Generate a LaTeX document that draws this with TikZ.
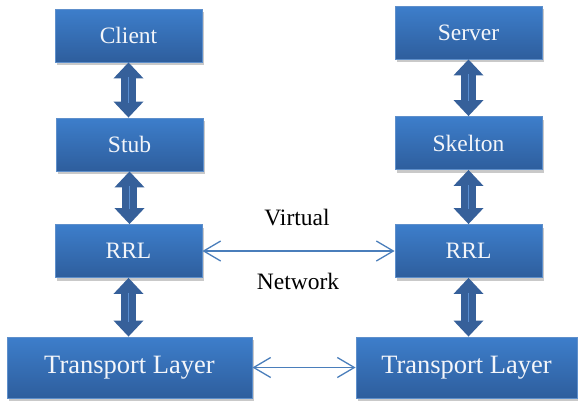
\documentclass[tikz,border=0pt]{standalone}
\usepackage{fontspec}
\setmainfont{Liberation Serif}
\newfontfamily\tnrfont{Liberation Serif}
\usetikzlibrary{arrows.meta,shadows}
\definecolor{boxtop}{HTML}{3D7ECB}
\definecolor{boxbot}{HTML}{2E5E9D}
\definecolor{boxline}{HTML}{5E8FCB}
\definecolor{fatblue}{HTML}{36609A}
\definecolor{fatmid}{HTML}{5A8ED0}
\definecolor{netblue}{HTML}{4A7EBB}
\definecolor{labelwhite}{HTML}{F4F6FA}
\tikzset{
  box/.style={draw=boxline, line width=0.8pt, top color=boxtop, bottom color=boxbot,
    minimum width=147pt, minimum height=53pt, inner sep=0pt,
    text=labelwhite, font=\tnrfont\fontsize{23.5}{26}\selectfont,
    drop shadow={shadow xshift=1.5pt, shadow yshift=-3pt, opacity=0.3, fill=black!70}},
  bigbox/.style={box, minimum width=245pt, minimum height=61pt, font=\tnrfont\fontsize{26.5}{29}\selectfont},
  fatarrow/.style={draw=fatblue, line width=15pt,
    {Triangle[width=29pt,length=16pt]}-{Triangle[width=29pt,length=16pt]}},
  fatline/.style={draw=fatmid, line width=1.6pt, shorten <=15pt, shorten >=15pt},
  netarrow/.style={draw=netblue, line width=1.3pt,
    {Straight Barb[length=17pt,width=20pt]}-{Straight Barb[length=17pt,width=20pt]}},
  plainlabel/.style={font=\tnrfont\fontsize{23.5}{26}\selectfont, text=black}
}
\begin{document}
\begin{tikzpicture}[x=1pt,y=-1pt]
\useasboundingbox (0,0) rectangle (578,402);
% left column
\node[box] (client) at (128.5,35.5) {Client};
\node[box] (stub) at (129.5,144.5) {Stub};
\node[box] (rrlL) at (128.5,251) {RRL};
\node[bigbox] (tlL) at (129.5,367.5) {Transport Layer};
% right column
\node[box] (server) at (468.5,32.5) {Server};
\node[box] (skel) at (468.5,143) {Skelton};
\node[box] (rrlR) at (468.5,251) {RRL};
\node[bigbox, minimum width=221pt] (tlR) at (466.5,367.5) {Transport Layer};
% fat double arrows
\foreach \a/\b in {client/stub, stub/rrlL, rrlL/tlL, server/skel, skel/rrlR, rrlR/tlR}{
  \draw[fatarrow] (\a.south) -- (\a.south |- \b.north);
  \draw[fatline] (\a.south) -- (\a.south |- \b.north);
}
% network arrows
\draw[netarrow] (rrlL.east) -- (rrlR.west);
\draw[netarrow] (tlL.east) -- (tlR.west);
\node[plainlabel] (virt) at (297,218) {Virtual};
\node[plainlabel] (net) at (298,281) {Network};
\end{tikzpicture}
\end{document}
